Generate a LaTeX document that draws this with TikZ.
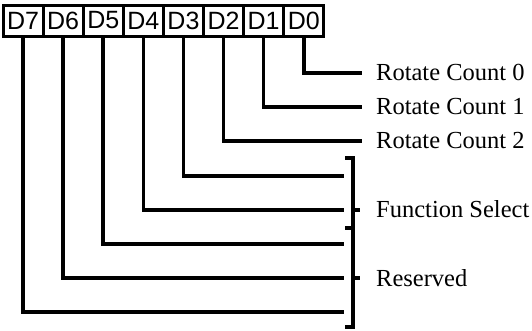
\documentclass[tikz,border=0pt]{standalone}
\usepackage{fontspec}
\setmainfont{Liberation Serif}
\newfontfamily\boxfont{Liberation Sans}
\begin{document}
\begin{tikzpicture}[x=1pt,y=-1pt,
  bitbox/.style={draw,line width=3pt,minimum width=40.1pt,minimum height=31pt,inner sep=0pt,font=\boxfont\fontsize{25}{25}\selectfont},
  wire/.style={line width=3.6pt},
  lbl/.style={anchor=base west,inner sep=0pt,font=\fontsize{24.5}{24.5}\selectfont}]
\useasboundingbox (0,0) rectangle (532,330);
% bit boxes
\foreach \i/\n in {0/7,1/6,2/5,3/4,4/3,5/2,6/1,7/0}{
  \node[bitbox] (b\n) at ({23.05+40.1*\i},20.5) {D\n};
}
% ends of the wires
\coordinate (e0) at (362,73);
\coordinate (e1) at (362,107);
\coordinate (e2) at (362,141);
\coordinate (e3) at (344,176);
\coordinate (e4) at (344,210);
\coordinate (e5) at (344,244);
\coordinate (e6) at (344,278);
\coordinate (e7) at (344,312);
\foreach \n in {0,...,7}{
  \draw[wire] (b\n.south) |- (e\n);
}
% bracket
\coordinate (bt) at (353,158);
\coordinate (bm) at (353,228);
\coordinate (bb) at (353,327);
\coordinate (fs) at (353,210);
\coordinate (rs) at (353,278);
\draw[wire,line cap=butt] ([xshift=-8pt]bt) -- (bt) -- (bb) -- ([xshift=-8pt]bb);
\draw[wire] ([xshift=-8pt]bm) -- (bm);
\draw[wire] (fs) -- ([xshift=7pt]fs);
\draw[wire] (rs) -- ([xshift=7pt]rs);
% labels
\node[lbl] (l0) at (376,80) {Rotate Count 0};
\node[lbl] (l1) at (376,114) {Rotate Count 1};
\node[lbl] (l2) at (376,148) {Rotate Count 2};
\node[lbl] (l3) at (376,217) {Function Select};
\node[lbl] (l4) at (376,286) {Reserved};
\end{tikzpicture}
\end{document}
